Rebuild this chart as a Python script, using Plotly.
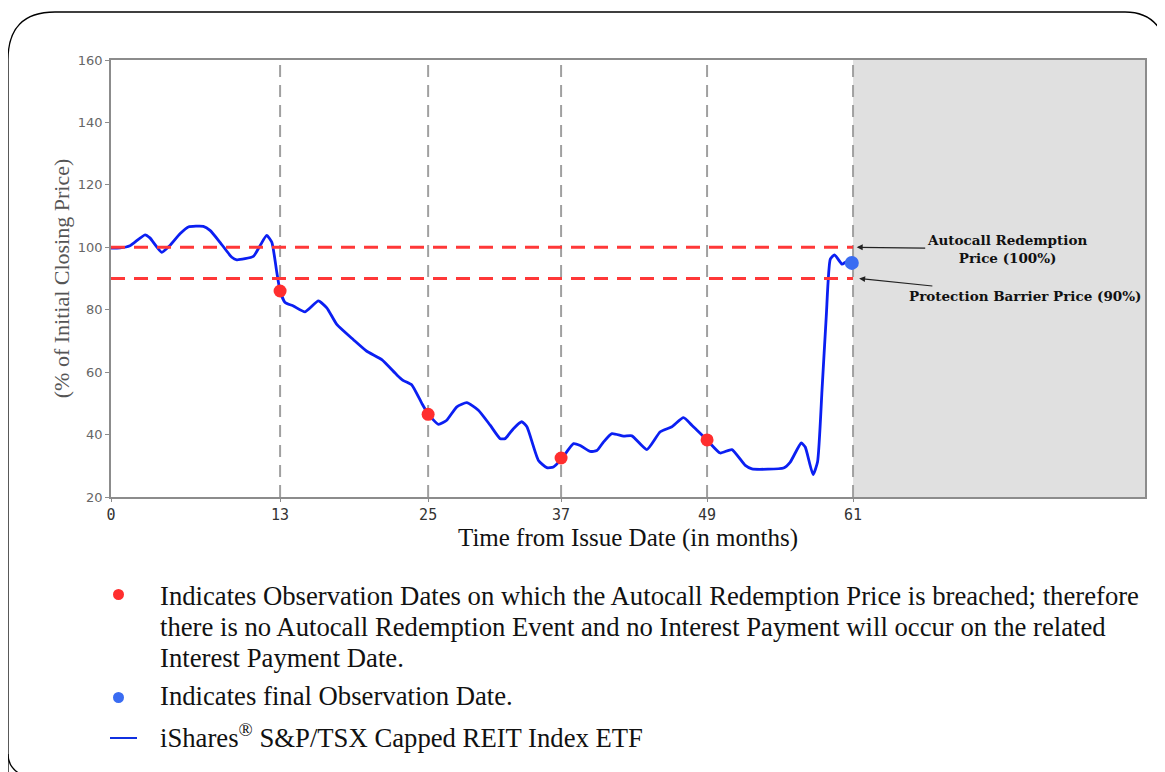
import plotly.graph_objects as go

# ---------------- data ----------------
t_vals = [0, 0.74, 1.56, 2.8, 3.2, 4.17, 4.85, 5.67, 6.36, 7.59, 8.14, 8.96, 9.93, 10.34,
          11.70, 12.25, 12.80, 13.22, 13.63, 13.9, 14.31, 14.99, 15.95, 17.05, 17.74,
          18.56, 19.93, 21.03, 22.26, 23.5, 24.04, 24.73, 25.55, 26.09, 26.92, 27.6,
          28.43, 29.25, 30.2, 31.17, 31.99, 32.4, 33.08, 33.77, 34.19, 35.14, 35.83,
          36.37, 37.06, 38.02, 38.57, 39.39, 39.94, 40.48, 41.18, 42.13, 42.82, 44.05,
          45.15, 46.11, 47.06, 47.75, 48.99, 50.08, 51.04, 52.14, 52.69, 55.29, 55.84,
          56.74, 57.07, 57.71, 58.08, 58.45, 58.8, 59.13, 59.48, 60.09, 60.5, 60.9]
level_vals = [99.7, 99.8, 100.5, 104, 103, 98.4, 100.6, 104.3, 106.5, 106.7, 105.4, 101.6,
              96.8, 96, 97.1, 100.5, 103.8, 101.6, 92, 86, 82.3, 81.2, 79.3, 82.8, 80.6,
              75.3, 70.4, 66.7, 64, 59.1, 57.3, 55.9, 50, 46.5, 43.3, 44.6, 48.9, 50.2,
              47.8, 43, 38.7, 38.7, 41.9, 44.1, 42.5, 31.7, 29.4, 29.6, 32.3, 37.1, 36.5,
              34.6, 34.9, 37.6, 40.3, 39.5, 39.6, 35.2, 40.9, 42.5, 45.4, 43, 38.3, 34.1,
              35.2, 30.1, 29, 29.3, 31.2, 37.3, 36, 27.2, 31.2, 54.3, 78, 96.2, 97.6,
              94.6, 95.4, 94.6]

obs_t = [13.9, 26.07, 37.0, 49.0]
obs_level = [86, 46.5, 32.5, 38.3]
final_t = [60.9]
final_level = [95]

tick_pos = [0, 13.9, 26.07, 37.0, 49.0, 61.0]
tick_labels = ["0", "13", "25", "37", "49", "61"]
y_ticks = [20, 40, 60, 80, 100, 120, 140, 160]

autocall_level = 100
barrier_level = 90
final_obs = 61.0
x_max = 85

legend_lines = [
    "Indicates Observation Dates on which the Autocall Redemption Price is breached; therefore",
    "there is no Autocall Redemption Event and no Interest Payment will occur on the related",
    "Interest Payment Date.",
]
legend_final = "Indicates final Observation Date."
legend_series = "iShares<sup>®</sup> S&P/TSX Capped REIT Index ETF"

# ---------------- layout helpers ----------------
# the page body has an 8px margin, so the figure is shifted by 8px
OFF = 8
W, H = 1165 - OFF, 772 - OFF
REF_L, REF_R, REF_T, REF_B = 111, 1145, 60, 497
L, T = REF_L - OFF, REF_T - OFF
R = W - (REF_R - OFF)
B = H - (REF_B - OFF)
PW, PH = REF_R - REF_L, REF_B - REF_T


def px(x):
    return (x - REF_L) / PW


def py(y):
    return (REF_B - y) / PH


SERIF = "Liberation Serif, Times New Roman, serif"
LEG_SIZE = 26.7

fig = go.Figure()

fig.add_trace(go.Scatter(x=t_vals, y=level_vals, mode="lines",
                         line=dict(color="#0b1ff2", width=2.8, shape="spline", smoothing=0.5),
                         hoverinfo="skip", showlegend=False))
fig.add_trace(go.Scatter(x=obs_t, y=obs_level, mode="markers",
                         marker=dict(color="#ff2e2e", size=13), showlegend=False))
fig.add_trace(go.Scatter(x=final_t, y=final_level, mode="markers",
                         marker=dict(color="#3a6cf2", size=14), showlegend=False))

shapes = []
# grey shaded region after final observation
shapes.append(dict(type="rect", xref="x", yref="y", x0=final_obs, x1=x_max, y0=20, y1=160,
                   fillcolor="#e0e0e0", line=dict(width=0), layer="below"))
# vertical observation lines
for xv in tick_pos[1:]:
    shapes.append(dict(type="line", xref="x", yref="y", x0=xv, x1=xv, y0=20, y1=160,
                       line=dict(color="#a0a0a0", width=2, dash="12px,8px"), layer="below"))
# horizontal levels
for yv in (autocall_level, barrier_level):
    shapes.append(dict(type="line", xref="x", yref="y", x0=0, x1=final_obs, y0=yv, y1=yv,
                       line=dict(color="#ff3838", width=3, dash="14px,9px"), layer="above"))

# rounded frame around the whole panel
frame = (f"M {px(8)},{py(775)} L {px(8)},{py(60)} "
         f"Q {px(8)},{py(12)} {px(55)},{py(12)} "
         f"L {px(1125)},{py(12)} Q {px(1160)},{py(12)} {px(1168)},{py(50)}")
shapes.append(dict(type="path", xref="paper", yref="paper", path=frame,
                   line=dict(color="black", width=1.3)))
frame_b = f"M {px(8)},{py(754)} Q {px(8)},{py(768)} {px(22)},{py(775)}"
shapes.append(dict(type="path", xref="paper", yref="paper", path=frame_b,
                   line=dict(color="black", width=1.3)))

# legend symbols
shapes.append(dict(type="circle", xref="paper", yref="paper",
                   x0=px(113), x1=px(124), y0=py(600), y1=py(589),
                   fillcolor="#ff2e2e", line=dict(width=0)))
shapes.append(dict(type="circle", xref="paper", yref="paper",
                   x0=px(113), x1=px(124), y0=py(703), y1=py(692),
                   fillcolor="#3a6cf2", line=dict(width=0)))
shapes.append(dict(type="line", xref="paper", yref="paper",
                   x0=px(110), x1=px(137), y0=py(738), y1=py(738),
                   line=dict(color="#1030e0", width=2)))

annotations = []
# legend text
for i, txt in enumerate(legend_lines):
    annotations.append(dict(xref="paper", yref="paper", x=px(158), y=py(596 + 31 * i),
                            text=txt, showarrow=False, xanchor="left", yanchor="middle",
                            font=dict(family=SERIF, size=LEG_SIZE, color="#111")))
annotations.append(dict(xref="paper", yref="paper", x=px(158), y=py(696),
                        text=legend_final, showarrow=False, xanchor="left", yanchor="middle",
                        font=dict(family=SERIF, size=LEG_SIZE, color="#111")))
annotations.append(dict(xref="paper", yref="paper", x=px(158), y=py(736),
                        text=legend_series, showarrow=False, xanchor="left", yanchor="middle",
                        font=dict(family=SERIF, size=LEG_SIZE, color="#111")))

# right-side labels with arrows pointing at the level lines
annotations.append(dict(xref="x", yref="y", x=final_obs + 0.3, y=autocall_level,
                        ax=150, ay=2, axref="pixel", ayref="pixel",
                        text="<b>Autocall Redemption</b><br><b>Price (100%)</b>",
                        showarrow=True, arrowhead=2, arrowsize=1, arrowwidth=1.2,
                        arrowcolor="#222", standoff=0,
                        font=dict(family="DejaVu Serif", size=13.5, color="#111")))
annotations.append(dict(xref="x", yref="y", x=final_obs + 0.5, y=barrier_level,
                        ax=166, ay=17, axref="pixel", ayref="pixel",
                        text="<b>Protection Barrier Price (90%)</b>",
                        showarrow=True, arrowhead=2, arrowsize=1, arrowwidth=1.2,
                        arrowcolor="#222", standoff=0,
                        font=dict(family="DejaVu Serif", size=13.5, color="#111")))

fig.update_layout(
    width=W, height=H,
    margin=dict(l=L, r=R, t=T, b=B),
    paper_bgcolor="white", plot_bgcolor="white",
    shapes=shapes, annotations=annotations,
    xaxis=dict(range=[0, x_max], tickvals=tick_pos, ticktext=tick_labels,
               showgrid=False, zeroline=False, showline=True, linecolor="#8c8c8c",
               linewidth=1.5, mirror=True, ticks="outside", ticklen=3, tickcolor="#8c8c8c",
               tickfont=dict(family="DejaVu Sans Mono", size=15, color="#333"),
               title=dict(text="Time from Issue Date (in months)",
                          font=dict(family=SERIF, size=25, color="#111"), standoff=0)),
    yaxis=dict(range=[20, 160], tickvals=y_ticks,
               showgrid=False, zeroline=False, showline=True, linecolor="#8c8c8c",
               linewidth=1.5, mirror=True, ticks="outside", ticklen=4, tickcolor="#8c8c8c",
               tickfont=dict(family="DejaVu Sans", size=13, color="#666"),
               title=dict(text="(% of Initial Closing Price)",
                          font=dict(family=SERIF, size=22, color="#555"), standoff=2)),
)

fig.write_html("out.html")
